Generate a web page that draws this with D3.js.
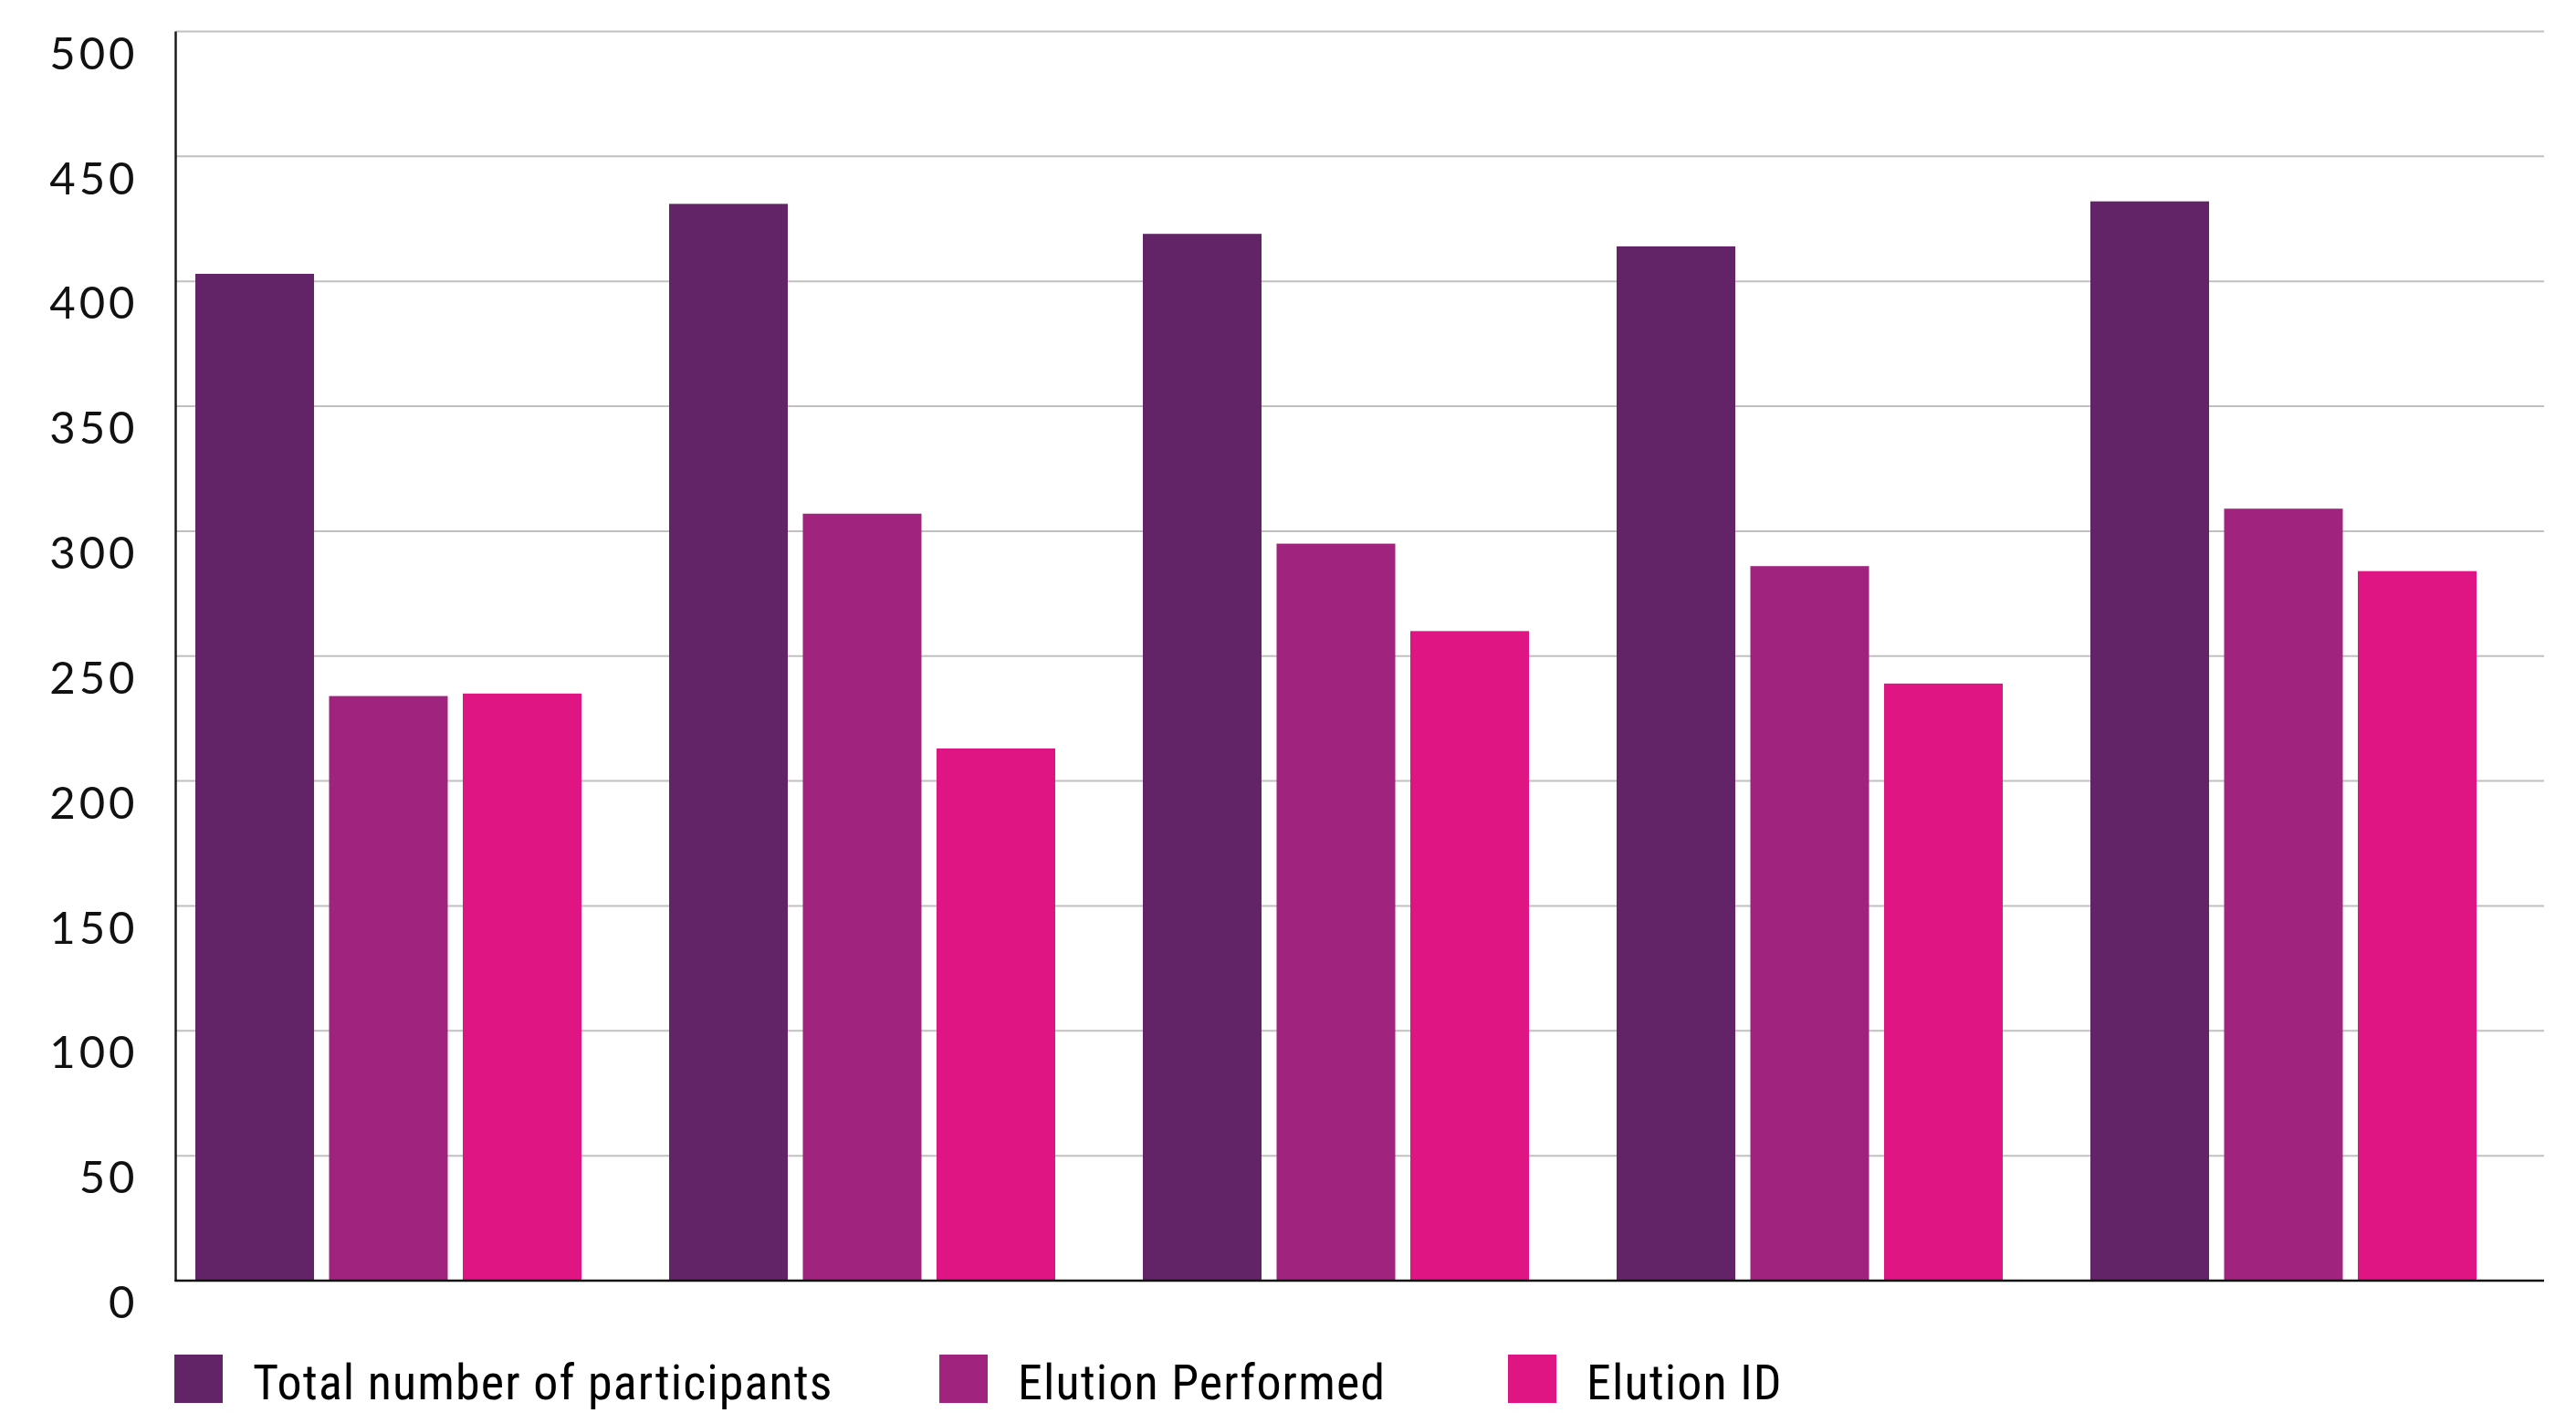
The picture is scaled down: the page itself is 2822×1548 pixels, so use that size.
<!DOCTYPE html>
<html>
<head>
<meta charset="utf-8">
<script src="https://cdn.jsdelivr.net/npm/d3@7"></script>
<style>
  html, body { margin: 0; padding: 0; background: #fff; }
  svg { display: block; }
</style>
</head>
<body>
<svg id="chart" width="2822" height="1548"></svg>
<script>
// ---- data ----
const categories = ["Group 1", "Group 2", "Group 3", "Group 4", "Group 5"];
const seriesNames = ["Total number of participants", "Elution Performed", "Elution ID"];
const totalParticipants = [403, 431, 419, 414, 432];
const elutionPerformed = [234, 307, 295, 286, 309];
const elutionID = [235, 213, 260, 239, 284];
const yTicks = [0, 50, 100, 150, 200, 250, 300, 350, 400, 450, 500];
const seriesColors = ["#622466", "#a0237e", "#e01584"];

const seriesValues = [totalParticipants, elutionPerformed, elutionID];
const rows = categories.map((c, i) => ({
  category: c,
  values: seriesNames.map((s, j) => ({ series: s, value: seriesValues[j][i], color: seriesColors[j] }))
}));

// ---- layout ----
const svg = d3.select("#chart");
const axisX = 192.5, plotRight = 2787;
const y0 = 1403, yTop = 34.5;

const y = d3.scaleLinear().domain([0, 500]).range([y0, yTop]);
const x0 = d3.scaleBand().domain(categories).range([214, 2713]).paddingInner(0.185).paddingOuter(0);
const x1 = d3.scaleBand().domain(seriesNames).range([0, x0.bandwidth()]).paddingInner(0.1126).paddingOuter(0);

// gridlines
svg.append("g")
  .selectAll("line")
  .data(yTicks.filter(t => t > 0))
  .join("line")
  .attr("x1", axisX).attr("x2", plotRight)
  .attr("y1", d => y(d)).attr("y2", d => y(d))
  .attr("stroke", "#c0c0c0").attr("stroke-width", 2);

// bars
const groups = svg.append("g").selectAll("g")
  .data(rows)
  .join("g")
  .attr("transform", d => `translate(${x0(d.category)},0)`);

groups.selectAll("rect")
  .data(d => d.values)
  .join("rect")
  .attr("x", d => x1(d.series))
  .attr("width", x1.bandwidth())
  .attr("y", d => y(d.value))
  .attr("height", d => y(0) - y(d.value))
  .attr("fill", d => d.color);

// y axis labels
const yAxis = svg.append("g")
  .attr("transform", `translate(${axisX},0)`)
  .call(d3.axisLeft(y).tickValues(yTicks).tickSize(0).tickPadding(41).tickFormat(d3.format("d")));
yAxis.select(".domain").remove();
yAxis.selectAll("text")
  .attr("y", 25)
  .attr("font-family", "Lato, 'Open Sans', sans-serif")
  .attr("font-weight", 400)
  .attr("font-size", 49)
  .attr("letter-spacing", 4)
  .attr("fill", "#111");

// axis lines
svg.append("line")
  .attr("x1", axisX).attr("x2", axisX)
  .attr("y1", yTop).attr("y2", y0 + 1)
  .attr("stroke", "#1a1a1a").attr("stroke-width", 2.5);
svg.append("line")
  .attr("x1", axisX - 1).attr("x2", plotRight)
  .attr("y1", y0).attr("y2", y0)
  .attr("stroke", "#111").attr("stroke-width", 2.5);

// legend
const legendX = [191, 1029, 1652];
const legend = svg.append("g").selectAll("g")
  .data(seriesNames)
  .join("g")
  .attr("transform", (d, i) => `translate(${legendX[i]},1484)`);
legend.append("rect")
  .attr("width", 53).attr("height", 53)
  .attr("fill", (d, i) => seriesColors[i]);
legend.append("text")
  .attr("x", 86).attr("y", 49)
  .attr("font-family", "'Liberation Sans Narrow', 'Roboto Condensed', Roboto, sans-serif")
  .attr("font-size", 54)
  .attr("letter-spacing", 1.1)
  .attr("fill", "#000")
  .text(d => d);
</script>
</body>
</html>
